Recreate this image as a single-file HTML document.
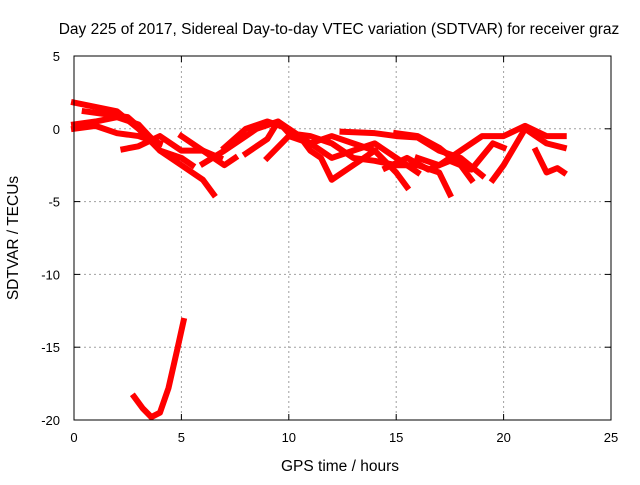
<!DOCTYPE html>
<html><head><meta charset="utf-8"><style>
body{margin:0;background:#fff;font-family:"Liberation Sans",sans-serif}
svg text{font-family:"Liberation Sans",sans-serif;font-size:13px;fill:#000}
svg text.big{font-size:15.5px}
</style></head><body>
<svg width="640" height="480" id="chart">
<text class="big" x="339" y="34" text-anchor="middle">Day 225 of 2017, Sidereal Day-to-day VTEC variation (SDTVAR) for receiver graz</text>
<text class="big" x="340" y="471" text-anchor="middle">GPS time / hours</text>
<text class="big" transform="translate(18,238) rotate(-90)" text-anchor="middle">SDTVAR / TECUs</text>
<g id="grid"></g>
<g id="axes"></g>
<g id="series"></g>
<rect x="74" y="56" width="537" height="364" fill="none" stroke="#000" stroke-width="1"/>
</svg>
<script>
const xTicks=[0,5,10,15,20,25];
const yTicks=[5,0,-5,-10,-15,-20];
const t1=[[0,1.8],[1,1.5],[2,1.2],[3,0],[4,-1.5],[5,-2.5],[6,-3.5],[6.5,-4.5]];
const t2=[[0,0.3],[1,0.5],[2,0.8],[3,0.3],[3.5,-0.5],[4,-1.5],[5,-2],[5.5,-2.5]];
const t3=[[0,0],[1,0.2],[2,-0.3],[3,-0.5],[4,-1]];
const t4=[[0.5,1.2],[1.5,1],[2.5,0.8],[3.5,-0.5]];
const t5=[[2.3,-1.4],[3,-1.2],[4,-0.5],[5,-1.5],[6,-1.5],[6.8,-2]];
const t6=[[5,-0.5],[6,-1.5],[7,-2.5],[7.5,-2]];
const t7=[[6,-2.4],[7,-1.5],[8,-0.5],[8.5,0],[9.5,0.5],[10.5,-0.5],[11,-1.5],[11.5,-2],[12,-3.5],[13,-2.5],[14,-1.5],[15,-3],[15.5,-4]];
const t8=[[7,-1.3],[8,0],[9,0.5],[10,0],[11,-1],[12,-2],[13,-1.5],[14,-1],[15,-2],[16,-3]];
const t9=[[8,-1.7],[9,-0.7],[9.5,0.5],[10,-0.3],[11,-0.5],[12,-1],[13,-2],[14,-2.2],[15,-2.5],[16,-2.5],[17,-3],[17.5,-4.5]];
const t10=[[9,-2],[10,-0.5],[11,-1],[12,-0.5],[13,-1],[14,-1.5]];
const t11=[[12.5,-0.2],[14,-0.3],[15,-0.5],[16,-0.6],[17,-1.5],[18,-2],[19,-3.2]];
const t12=[[15,-0.3],[16,-0.5],[17,-1.3],[18,-2.5],[18.5,-3.5]];
const t13=[[16,-2],[17,-2.5],[18,-1.5],[19,-0.5],[20,-0.5],[21,0.2],[22,-0.5],[22.8,-0.5]];
const t14=[[19.5,-3.5],[20,-2.5],[21,0],[21.5,-0.5],[22,-1],[22.8,-1.3]];
const t15=[[21.5,-1.5],[22,-3],[22.5,-2.7],[22.8,-3]];
const t16=[[14.5,-2.7],[15.5,-2],[16.5,-2.8],[17.5,-2.2],[18.5,-2.8],[19.5,-1],[20,-1.3]];
const tLow=[[2.8,-18.4],[3.2,-19.2],[3.6,-19.8],[4,-19.5],[4.4,-17.8],[4.8,-15.2],[5.1,-13.2]];
const tracks=[t1,t2,t3,t4,t5,t6,t7,t8,t9,t10,t11,t12,t13,t14,t15,t16,tLow];

const NS="http://www.w3.org/2000/svg";
const X0=74,X1=611,Y0=420,Y1=56;
function sx(v){return X0+(v-0)/(25-0)*(X1-X0);}
function sy(v){return Y0-(v+20)/(5+20)*(Y0-Y1);}
function mk(tag,attrs,parent){const e=document.createElementNS(NS,tag);for(const k in attrs)e.setAttribute(k,attrs[k]);parent.appendChild(e);return e;}
const grid=document.getElementById('grid'),axes=document.getElementById('axes'),ser=document.getElementById('series');
xTicks.forEach(t=>{
  const x=sx(t);
  if(t>0&&t<25){const l=mk('line',{x1:x,x2:x,y1:Y1,y2:Y0,stroke:'#a0a0a0','stroke-dasharray':'2,3'},grid);
  
  }
  mk('line',{x1:x,x2:x,y1:Y0,y2:Y0-6,stroke:'#000'},axes);
  mk('line',{x1:x,x2:x,y1:Y1,y2:Y1+6,stroke:'#000'},axes);
  const tx=mk('text',{x:x,y:Y0+22,'text-anchor':'middle'},axes);tx.textContent=t;
  
  
});
yTicks.forEach(t=>{
  const y=sy(t);
  if(t>-20&&t<5){const l=mk('line',{x1:X0,x2:X1,y1:y,y2:y,stroke:'#a0a0a0','stroke-dasharray':'2,3'},grid);
  
  }
  mk('line',{x1:X0,x2:X0+6,y1:y,y2:y,stroke:'#000'},axes);
  mk('line',{x1:X1,x2:X1-6,y1:y,y2:y,stroke:'#000'},axes);
  const tx=mk('text',{x:X0-14,y:y+5,'text-anchor':'end'},axes);tx.textContent=t;
  
  
});
tracks.forEach((tr,i)=>{
  const p=mk('polyline',{points:tr.map(d=>sx(d[0])+','+sy(d[1])).join(' '),fill:'none',stroke:'#ff0000','stroke-width':6,'stroke-linejoin':'round','stroke-linecap':'square'},ser);
  
  
});
</script>
</body></html>
